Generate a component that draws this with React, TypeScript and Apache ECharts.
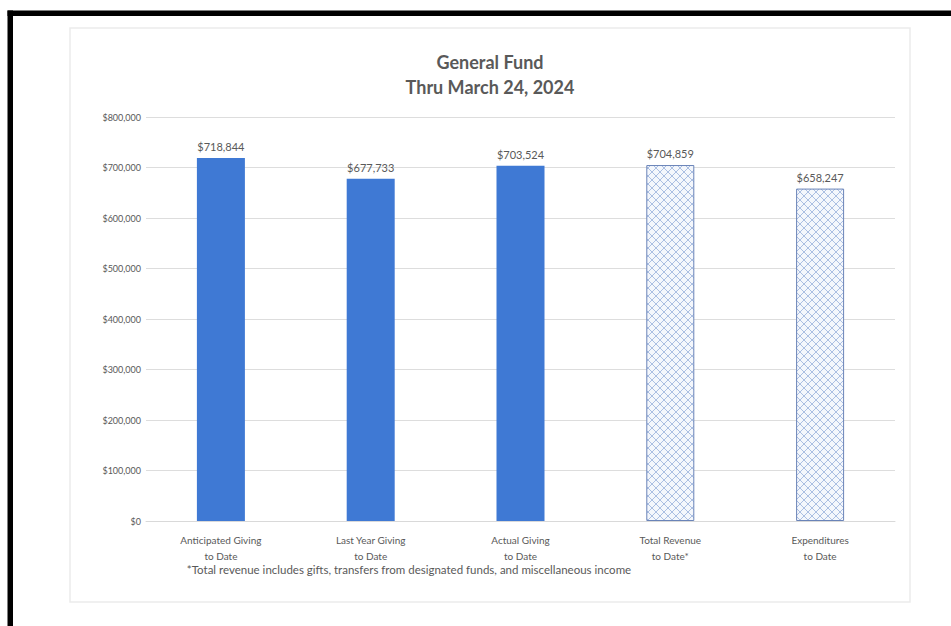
import React, { useEffect, useRef } from "react";
import * as echarts from "echarts";

const titleLines = ["General Fund", "Thru March 24, 2024"];
const categories = [
  "Anticipated Giving\nto Date",
  "Last Year Giving\nto Date",
  "Actual Giving\nto Date",
  "Total Revenue\nto Date*",
  "Expenditures\nto Date",
];
const values = [718844, 677733, 703524, 704859, 658247];
const hatchedCategories = ["Total Revenue\nto Date*", "Expenditures\nto Date"];
const yMin = 0;
const yMax = 800000;
const yInterval = 100000;
const footnote =
  "*Total revenue includes gifts, transfers from designated funds, and miscellaneous income";

const FONT = "Lato, 'Liberation Sans', sans-serif";
const TEXT = "#595959";

function fmt(v: number): string {
  return "$" + Math.round(v).toString().replace(/\B(?=(\d{3})+(?!\d))/g, ",");
}

function makeHatch(): HTMLCanvasElement {
  const c = document.createElement("canvas");
  const s = 8;
  c.width = s;
  c.height = s;
  const ctx = c.getContext("2d")!;
  ctx.fillStyle = "#F4F7FC";
  ctx.fillRect(0, 0, s, s);
  ctx.strokeStyle = "#A3B8DF";
  ctx.lineWidth = 0.9;
  ctx.beginPath();
  ctx.moveTo(0, 0);
  ctx.lineTo(s, s);
  ctx.moveTo(s, 0);
  ctx.lineTo(0, s);
  ctx.stroke();
  return c;
}

export default function App() {
  const ref = useRef<HTMLDivElement>(null);
  useEffect(() => {
    if (!ref.current) return;
    const chart = echarts.init(ref.current, undefined, { renderer: "svg" });
    const hatch = makeHatch();
    const data = values.map((v, i) => {
      const hatched = hatchedCategories.indexOf(categories[i]) >= 0;
      return hatched
        ? {
            value: v,
            itemStyle: {
              color: { image: hatch, repeat: "repeat" } as any,
              borderColor: "#6A84B8",
              borderWidth: 1,
            },
          }
        : { value: v, itemStyle: { color: "#3F79D4" } };
    });
    chart.setOption({
      animation: false,
      backgroundColor: "#ffffff",
      graphic: [
        {
          type: "rect",
          shape: { x: 70, y: 28, width: 840, height: 574 },
          style: { fill: "#ffffff", stroke: "#EBEBEB", lineWidth: 1.5 },
          z: -10,
        },
        {
          type: "rect",
          shape: { x: 7.5, y: 10.5, width: 951, height: 5.5 },
          style: { fill: "#000000" },
        },
        {
          type: "rect",
          shape: { x: 7.5, y: 10.5, width: 5.5, height: 620 },
          style: { fill: "#000000" },
        },
        {
          type: "text",
          x: 490,
          y: 62,
          style: {
            text: titleLines[0],
            font: `bold 18px ${FONT}`,
            fill: TEXT,
            align: "center",
            verticalAlign: "middle",
          },
        },
        {
          type: "text",
          x: 490,
          y: 87,
          style: {
            text: titleLines[1],
            font: `bold 18px ${FONT}`,
            fill: TEXT,
            align: "center",
            verticalAlign: "middle",
          },
        },
        {
          type: "text",
          x: 409,
          y: 569,
          style: {
            text: footnote,
            font: `11.5px ${FONT}`,
            fill: TEXT,
            align: "center",
            verticalAlign: "middle",
          },
        },
      ],
      grid: { left: 146, right: 56, top: 117, bottom: 105, containLabel: false },
      xAxis: {
        type: "category",
        data: categories,
        axisLine: { lineStyle: { color: "#D9D9D9" } },
        axisTick: { show: false },
        axisLabel: {
          color: TEXT,
          fontFamily: FONT,
          fontSize: 10,
          lineHeight: 16,
          margin: 11,
          interval: 0,
        },
      },
      yAxis: {
        type: "value",
        min: yMin,
        max: yMax,
        interval: yInterval,
        axisLine: { show: false },
        axisTick: { show: false },
        splitLine: { lineStyle: { color: "#DDDDDD" } },
        axisLabel: {
          color: TEXT,
          fontFamily: FONT,
          fontSize: 9,
          margin: 5,
          formatter: (v: number) => fmt(v),
        },
      },
      series: [
        {
          type: "bar",
          data,
          barWidth: 48,
          label: {
            show: true,
            position: "top",
            distance: 6,
            color: TEXT,
            fontFamily: FONT,
            fontSize: 11,
            formatter: (p: any) => fmt(p.value),
          },
        },
      ],
    });
    return () => chart.dispose();
  }, []);
  return (
    <div
      ref={ref}
      style={{ position: "fixed", left: 0, top: 0, width: 951, height: 626 }}
    />
  );
}
